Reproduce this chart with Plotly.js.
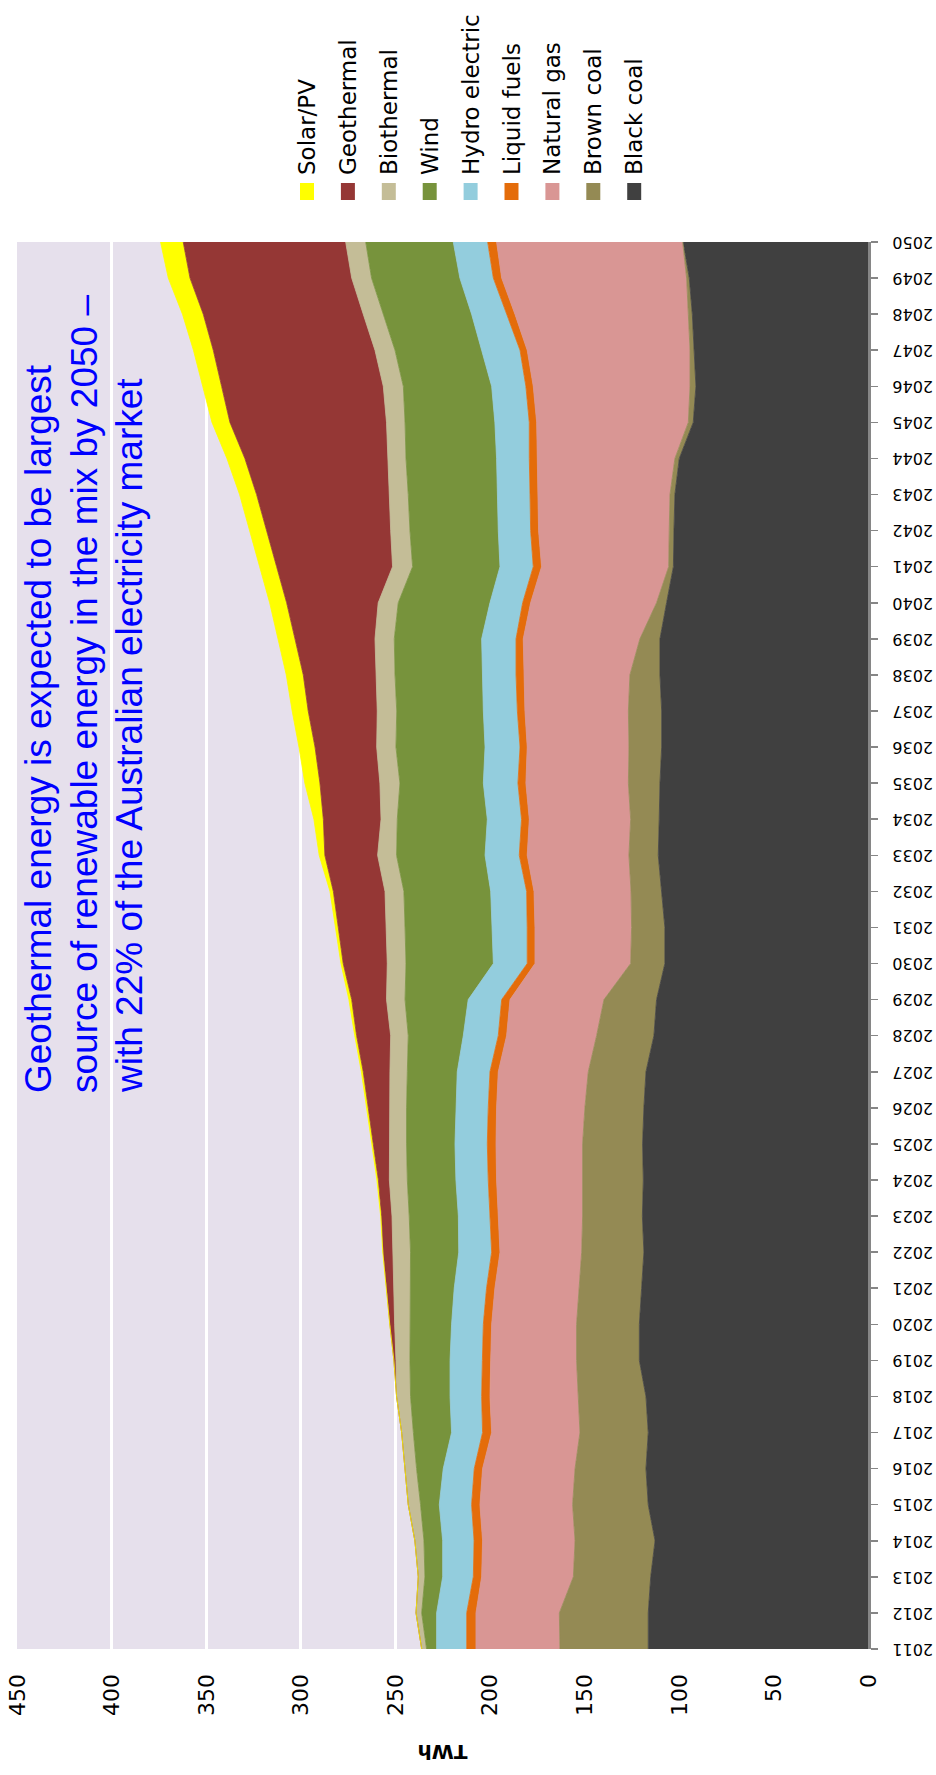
<!DOCTYPE html>
<html>
<head>
<meta charset="utf-8">
<script src="https://cdn.plot.ly/plotly-3.0.1.min.js"></script>
<style>
html, body { margin:0; padding:0; background:#ffffff; overflow:hidden; width:936px; height:1775px; }
#wrap { position:absolute; left:0; top:0; width:936px; height:1775px; overflow:hidden; }
#chart { position:absolute; left:0; top:0; width:1775px; height:936px;
  transform-origin:0 0; transform:translate(0px,1775px) rotate(-90deg); }
</style>
</head>
<body>
<div id="wrap"><div id="chart"></div></div>
<script>
// ---- data (TWh), years 2011..2050 ----
const years = [2011,2012,2013,2014,2015,2016,2017,2018,2019,2020,
               2021,2022,2023,2024,2025,2026,2027,2028,2029,2030,
               2031,2032,2033,2034,2035,2036,2037,2038,2039,2040,
               2041,2042,2043,2044,2045,2046,2047,2048,2049,2050];

const blackCoal = [116.2,116.2,114.9,112.6,116.2,117.4,116.2,117.4,120.9,120.9,
                   119.7,118.5,119.3,118.8,119.2,118.5,117.4,113.2,111.8,107.4,
                   107.4,109.1,110.9,110.4,110.0,109.1,109.1,110.0,110.0,106.5,
                   102.9,102.6,102.1,99.8,92.4,91.0,92.0,92.9,94.5,97.7];
const brownCoal = [46.7,47.0,40.9,42.3,40.0,37.5,36.1,35.8,33.2,33.2,
                   33.0,32.9,31.6,32.1,31.7,31.2,30.5,30.3,27.8,18.1,
                   17.6,16.2,15.5,15.1,16.7,17.3,17.6,15.9,10.6,5.3,
                   2.5,2.5,2.6,2.3,2.6,3.1,2.1,2.1,1.4,0.3];
const naturalGas = [44.4,44.1,48.5,48.9,49.0,48.9,46.7,46.7,45.4,44.9,
                    44.6,43.2,44.6,45.5,45.8,46.7,47.6,47.6,49.7,50.6,
                    51.1,51.3,53.8,53.6,54.2,53.8,54.7,56.0,61.7,66.6,
                    67.2,69.1,69.8,72.8,80.2,82.9,86.1,91.7,97.8,98.4];
const liquidFuels = [4.9,4.9,4.4,4.5,4.4,4.4,4.8,4.4,4.4,4.4,
                     4.4,4.4,4.4,4.4,4.6,4.4,4.4,4.4,4.4,4.1,
                     4.1,3.9,4.2,4.1,4.2,3.8,4.0,4.2,3.8,4.2,
                     4.4,4.2,4.2,4.2,3.9,3.9,3.8,4.4,4.4,4.7];
const hydro = [15.9,15.9,16.2,16.6,17.1,16.4,16.4,16.7,17.1,16.8,
               17.1,17.4,16.7,17.1,17.1,16.9,17.3,18.5,17.7,17.9,
               18.5,19.0,18.1,18.1,18.3,18.5,18.0,17.8,18.2,17.3,
               17.6,17.1,17.3,17.3,18.2,18.1,20.3,18.5,17.7,18.2];
const wind = [5.3,7.9,9.4,9.9,9.9,14.1,20.2,20.9,21.2,22.0,
              23.4,25.5,26.0,25.7,25.6,26.3,26.4,29.1,33.4,46.2,
              46.1,45.9,46.8,47.6,44.1,47.1,45.8,46.2,46.2,48.5,
              46.2,46.7,47.1,47.9,47.5,46.7,45.8,46.7,46.7,46.3];
const biothermal = [2.6,3.0,3.5,4.8,6.5,6.1,6.2,7.4,7.4,8.1,
                    8.5,9.1,9.1,9.5,9.1,9.1,9.2,9.3,9.8,9.9,
                    10.1,10.0,10.0,8.6,10.6,10.2,10.3,10.1,10.2,10.6,
                    10.6,10.2,10.0,9.7,9.8,10.6,10.6,10.6,10.5,10.6];
const geothermal = [0,0,0,0,0,0,0,0,1.1,2.5,
                    3.8,5.3,5.5,5.8,8.5,11.1,14.1,18.0,18.4,23.3,
                    25.2,27.3,27.9,30.5,31.7,32.6,36.5,38.4,42.3,48.4,
                    61.3,65.6,70.2,75.5,82.8,85.5,85.5,84.6,85.5,85.9];
const solarPV = [0,0,0,0,0,0,0,0,0,0.1,
                 0.2,0.3,0.5,0.8,0.8,0.9,1.0,1.0,1.5,1.2,
                 1.5,1.8,3.0,5.0,8.0,8.5,8.5,9.0,9.0,9.0,
                 9.0,9.0,9.0,9.5,9.5,10,10.5,11,11.5,12];

// stacking order bottom -> top
const seriesNames = ['Black coal','Brown coal','Natural gas','Liquid fuels','Hydro electric',
                     'Wind','Biothermal','Geothermal','Solar/PV'];
const seriesData = [blackCoal, brownCoal, naturalGas, liquidFuels, hydro,
                    wind, biothermal, geothermal, solarPV];
const seriesColors = ['#404040','#948A54','#D99694','#E46C0A','#93CDDD',
                      '#77933C','#C4BD97','#953735','#FFFF00'];

const noteLines = ['Geothermal energy is expected to be largest',
                   'source of renewable energy in the mix by 2050 \u2013',
                   'with 22% of the Australian electricity market'];

// ---- geometry of the (unrotated) chart ----
const W = 1775, H = 936;
const ML = 126, MR = 242, MT = 17, MB = 68;
const PW = W - ML - MR, PH = H - MT - MB;
const px = X => (X - ML) / PW;
const py = Y => (MT + PH - Y) / PH;

const traces = seriesNames.map((n, i) => ({
  type: 'scatter', mode: 'lines', name: n, x: years, y: seriesData[i],
  stackgroup: 'one', fillcolor: seriesColors[i],
  line: {width: 0.8, color: seriesColors[i], shape: 'linear'},
  showlegend: false, hoverinfo: 'skip'
}));

const shapes = [];
const annotations = [];
// manual legend (top item = top of stack)
const legendOrder = seriesNames.map((n, i) => i).reverse();
legendOrder.forEach((si, k) => {
  const yc = 307 + k * 40.9;
  shapes.push({type: 'rect', xref: 'paper', yref: 'paper',
    x0: px(1575), x1: px(1592), y0: py(yc + 7), y1: py(yc - 7),
    fillcolor: seriesColors[si], line: {width: 0}});
  annotations.push({xref: 'paper', yref: 'paper', x: px(1598), y: py(yc),
    xanchor: 'left', yanchor: 'middle', showarrow: false, text: seriesNames[si],
    font: {family: 'DejaVu Sans', size: 23, color: '#000000'}});
});
noteLines.forEach((t, k) => {
  annotations.push({xref: 'paper', yref: 'paper', x: px(680), y: py(39 + k * 45),
    xanchor: 'left', yanchor: 'middle', showarrow: false, text: t,
    font: {family: 'Liberation Sans', size: 37, color: '#0000FF'}});
});

const layout = {
  width: W, height: H, autosize: false,
  margin: {l: ML, r: MR, t: MT, b: MB, pad: 0},
  paper_bgcolor: '#ffffff', plot_bgcolor: '#E6E0EC',
  showlegend: false,
  xaxis: {type: 'linear', range: [2011, 2050], tick0: 2011, dtick: 1,
    ticks: 'outside', ticklen: 7, tickwidth: 1.5, tickcolor: '#868686',
    showline: true, linecolor: '#868686', linewidth: 3,
    showgrid: false, zeroline: false, tickangle: -90, ticklabelstandoff: 8,
    tickfont: {family: 'DejaVu Sans', size: 16, color: '#000000'}},
  yaxis: {range: [0, 450], tick0: 0, dtick: 50,
    showgrid: true, gridcolor: '#ffffff', gridwidth: 3,
    zeroline: false, showline: false, ticks: '', ticklabelstandoff: 24,
    tickfont: {family: 'DejaVu Sans', size: 22, color: '#000000'},
    title: {text: 'TWh', standoff: 22,
      font: {family: 'DejaVu Sans', size: 20, color: '#000000', weight: 'bold'}}},
  shapes: shapes,
  annotations: annotations
};

Plotly.newPlot('chart', traces, layout, {staticPlot: true, displayModeBar: false});
</script>
</body>
</html>
